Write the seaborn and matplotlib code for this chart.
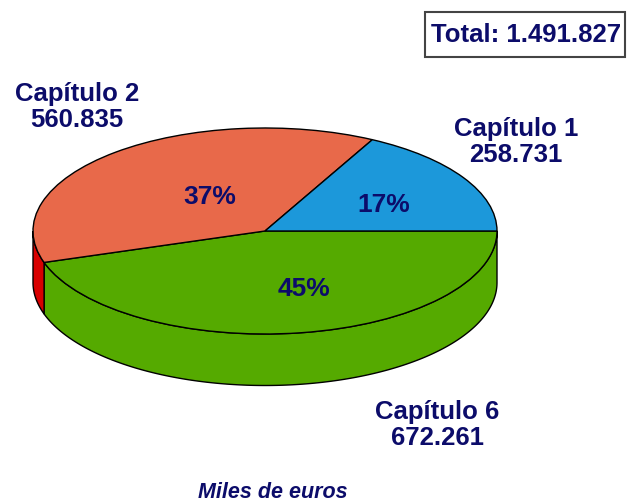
import numpy as np
import matplotlib
matplotlib.use("Agg")
import matplotlib.pyplot as plt
from matplotlib.patches import Rectangle
import seaborn as sns

# === Data ===
chapters = ["Capítulo 6", "Capítulo 2", "Capítulo 1"]
amounts = [672261, 560835, 258731]
top_colors = ["#55AA00", "#E8694A", "#1C98DA"]
side_colors = ["#55AA00", "#D80000", "#1470B0"]
unit_note = "Miles de euros"

NAVY = "#0C0C6A"
DEPTH = 0.5  # thickness of the "3D" disc in y data units


def fmt(v):
    return f"{v:,}".replace(",", ".")


sns.set_theme(style="white")
plt.rcParams["font.family"] = ["Liberation Sans", "DejaVu Sans"]

fig = plt.figure(figsize=(6.27, 5.01), dpi=100)
ax = fig.add_axes([0, 0, 1, 1])

total = sum(amounts)
fracs = np.array(amounts) / total

# top face
wedges, _ = ax.pie(amounts, colors=top_colors, startangle=0, counterclock=False,
                   wedgeprops=dict(edgecolor="black", linewidth=1.0, zorder=2))

# side faces (front half only, angles 180..360)
start = 0.0
for frac, col in zip(fracs, side_colors):
    end = start - frac * 360
    a0, a1 = end % 360, (start % 360) or 360
    if a0 > a1:
        a0 -= 360
    lo, hi = max(a0, 180), min(a1, 360)
    if hi > lo:
        t = np.radians(np.linspace(lo, hi, 200))
        xs = np.cos(t)
        ys = np.sin(t)
        px = np.concatenate([xs, xs[::-1]])
        py = np.concatenate([ys, ys[::-1] - DEPTH])
        ax.fill(px, py, facecolor=col, edgecolor="black", linewidth=1.0, zorder=1)
    start = end

ax.set_aspect("auto")
ax.set_xlim(-265 / 232, (627 - 265) / 232)
ax.set_ylim(-(501 - 231) / 103, 231 / 103)
ax.axis("off")

# percentage labels
pct_pos = [(0.17, -0.56), (-0.237, 0.33), (0.513, 0.252)]
for frac, (x, y) in zip(fracs, pct_pos):
    ax.text(x, y, f"{int(frac * 100)}%", ha="center", va="center",
            fontsize=19, fontweight="bold", color=NAVY, zorder=5)

# chapter labels
name_pos = [(437, 425), (77, 107), (516, 142)]
for name, amt, (px, py) in zip(chapters, amounts, name_pos):
    fig.text(px / 627, 1 - py / 501, f"{name}\n{fmt(amt)}", ha="center", va="center",
             fontsize=18.5, fontweight="bold", color=NAVY, linespacing=1.1)

# total box
fig.patches.append(Rectangle((425 / 627, 1 - 57 / 501), 200 / 627, 45 / 501,
                             transform=fig.transFigure, facecolor="white",
                             edgecolor="#444444", linewidth=1.5))
fig.text(526 / 627, 1 - 35 / 501, f"Total: {fmt(total)}", ha="center", va="center",
         fontsize=18.5, fontweight="bold", color=NAVY)

fig.text(273 / 627, 1 - 492 / 501, unit_note, ha="center", va="center",
         fontsize=15.5, fontstyle="italic", fontweight="bold", color=NAVY)

fig.savefig("out.png", dpi=100)
